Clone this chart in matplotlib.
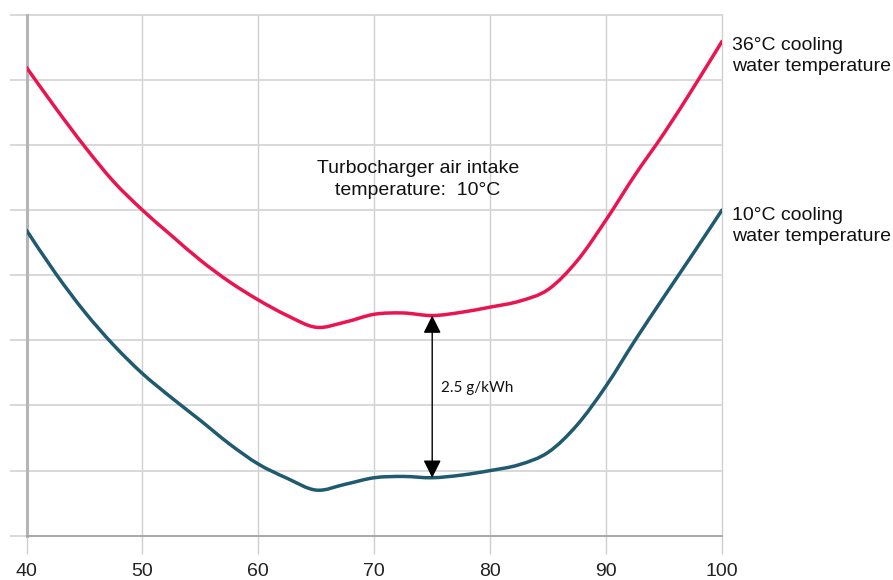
import numpy as np
import matplotlib
matplotlib.use("Agg")
from matplotlib import pyplot as plt
from matplotlib.path import Path
from matplotlib.patches import PathPatch

load = [40, 42.5, 45, 47.5, 50, 52.5, 55, 57.5, 60, 62.5, 65, 67.5, 70,
        72.5, 75, 77.5, 80, 82.5, 85, 87.5, 90, 92.5, 95, 97.5, 100]
water_36 = [7.19, 6.57, 5.98, 5.44, 5.00, 4.61, 4.23, 3.90, 3.62, 3.38, 3.20,
            3.28, 3.40, 3.42, 3.38, 3.43, 3.51, 3.60, 3.78, 4.22, 4.85, 5.54,
            6.18, 6.87, 7.59]
water_10 = [4.69, 4.03, 3.44, 2.93, 2.49, 2.12, 1.77, 1.41, 1.10, 0.88, 0.70,
            0.79, 0.89, 0.91, 0.89, 0.93, 1.00, 1.09, 1.28, 1.70, 2.30, 3.00,
            3.67, 4.33, 5.00]
xticks = [40, 50, 60, 70, 80, 90, 100]
yticks = [0, 1, 2, 3, 4, 5, 6, 7, 8]

RED = '#ea1550'
BLUE = '#1f5a70'
GRID = '#cfcfcf'


def smooth_path(xs, ys):
    # smoothed line like a spreadsheet chart: bezier segments through the points
    p = np.column_stack([xs, ys]).astype(float)
    ext = np.vstack([p[0], p, p[-1]])
    verts = [p[0]]
    codes = [Path.MOVETO]
    for i in range(len(p) - 1):
        p0, p1, p2, p3 = ext[i], ext[i + 1], ext[i + 2], ext[i + 3]
        verts += [p1 + (p2 - p0) / 6, p2 - (p3 - p1) / 6, p2]
        codes += [Path.CURVE4] * 3
    return Path(verts, codes)


fig = plt.figure(figsize=(8.93, 5.80), dpi=100)
ax = fig.add_axes([26.5 / 893, 44.3 / 580, (722 - 26.5) / 893, (535.7 - 14.7) / 580])

for ys, c in [(water_36, RED), (water_10, BLUE)]:
    ax.add_patch(PathPatch(smooth_path(load, ys), fill=False, edgecolor=c,
                           lw=2.5, capstyle='round', zorder=3))

ax.set_xlim(40, 100)
ax.set_ylim(0, 8)
ax.set_xticks(xticks)
ax.set_yticks(yticks)
ax.set_yticklabels([])
ax.set_xticklabels([str(t) for t in xticks], fontsize=14,
                   family=['Liberation Sans', 'DejaVu Sans'], color='#222222')
ax.tick_params(axis='x', direction='out', length=13, width=1.0, color=GRID, pad=7)
ax.tick_params(axis='y', direction='out', length=12.5, width=1.3, color='#d6d6d6')

ax.grid(True, axis='x', color=GRID, lw=1.0)
ax.grid(True, axis='y', color='#d6d6d6', lw=1.3)
for l in ax.get_xgridlines() + ax.get_ygridlines():
    l.set_clip_on(False)
ax.set_axisbelow(True)

for s in ['top', 'right']:
    ax.spines[s].set_visible(False)
ax.spines['left'].set_color('#b5b5b5')
ax.spines['left'].set_linewidth(2.2)
ax.spines['bottom'].set_color('#a8a8a8')
ax.spines['bottom'].set_linewidth(1.4)

# 2.5 g/kWh gap arrow
ax.annotate('', xy=(75, 3.38), xytext=(75, 0.89),
            arrowprops=dict(arrowstyle='<|-|>', color='black', lw=1.0,
                            mutation_scale=27, shrinkA=0, shrinkB=0), zorder=4)
ax.text(75.73, 2.27, '2.5 g/kWh', fontsize=11, family=['Lato', 'DejaVu Sans'],
        ha='left', va='center', color='#111111')

ax.text(73.75, 5.47, 'Turbocharger air intake\ntemperature:  10\u00b0C', fontsize=14,
        family=['Liberation Sans', 'DejaVu Sans'], ha='center', va='center',
        linespacing=1.32, color='#111111')

ax.text(100.9, 7.37, '36\u00b0C cooling\nwater temperature', fontsize=14,
        family=['Liberation Sans', 'DejaVu Sans'], ha='left', va='center',
        linespacing=1.3, color='#111111', clip_on=False)
ax.text(100.9, 4.76, '10\u00b0C cooling\nwater temperature', fontsize=14,
        family=['Liberation Sans', 'DejaVu Sans'], ha='left', va='center',
        linespacing=1.3, color='#111111', clip_on=False)

fig.savefig('out.png', dpi=100)
